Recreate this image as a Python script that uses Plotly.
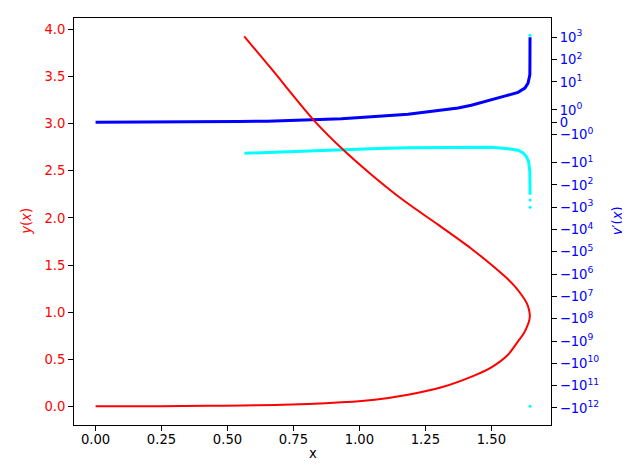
import numpy as np
import plotly.graph_objects as go

# ---- red curve y(x): from origin along lower branch, round the turning point, up the upper branch
curve_x = [0.0, 0.25, 0.427, 0.555, 0.680, 0.806, 0.932, 1.058, 1.184, 1.311, 1.437, 1.500,
           1.563, 1.601, 1.622, 1.636, 1.6435, 1.6458, 1.643, 1.635, 1.620, 1.589, 1.5506,
           1.4243, 1.2981, 1.1719, 1.0456, 0.9446, 0.8309, 0.6668, 0.5633]
curve_y = [0.0, 0.001, 0.005, 0.009, 0.014, 0.024, 0.042, 0.070, 0.123, 0.202, 0.329, 0.414,
           0.548, 0.690, 0.770, 0.850, 0.910, 0.960, 1.020, 1.090, 1.160, 1.274, 1.380,
           1.673, 1.928, 2.176, 2.459, 2.707, 3.025, 3.581, 3.927]

# ---- y'(x) on the lower branch (blue)
lower_x = [0.0, 0.25, 0.49, 0.541, 0.65, 0.793, 0.932, 1.045, 1.184, 1.298, 1.374, 1.424,
           1.500, 1.550, 1.601, 1.627, 1.639, 1.6458, 1.6462, 1.6464, 1.6465]
lower_v = [0.0, 0.0, 0.03, 0.06, 0.09, 0.17, 0.29, 0.45, 0.65, 0.95, 1.15, 1.37,
           1.78, 2.3, 3.4, 5.3, 8.9, 21.0, 80.0, 300.0, 1000.0]

# ---- y'(x) on the upper branch (cyan)
upper_x = [0.564, 0.655, 0.768, 0.881, 0.976, 1.071, 1.184, 1.336, 1.499, 1.563, 1.601,
           1.620, 1.632, 1.641, 1.6455, 1.6463, 1.6466]
upper_v = [-3.80, -3.43, -3.09, -2.79, -2.52, -2.32, -2.16, -2.05, -2.05, -2.37, -2.79,
           -3.69, -5.18, -8.7, -23.7, -81.7, -274.0]
upper_dot_x = [1.6466, 1.6466, 1.6465, 1.6466]
upper_dot_v = [-473.0, -1000.0, 1230.0, -8.4e11]

# ---- tick labels
x_ticks = [0.0, 0.25, 0.5, 0.75, 1.0, 1.25, 1.5]
left_ticks = [0.0, 0.5, 1.0, 1.5, 2.0, 2.5, 3.0, 3.5, 4.0]
right_tick_values = [1e3, 1e2, 1e1, 1e0, 0, -1e0, -1e1, -1e2, -1e3, -1e4, -1e5, -1e6,
                     -1e7, -1e8, -1e9, -1e10, -1e11, -1e12]
right_tick_labels = ["10<sup>3</sup>", "10<sup>2</sup>", "10<sup>1</sup>", "10<sup>0</sup>", "0",
                     "\u221210<sup>0</sup>", "\u221210<sup>1</sup>", "\u221210<sup>2</sup>",
                     "\u221210<sup>3</sup>", "\u221210<sup>4</sup>", "\u221210<sup>5</sup>",
                     "\u221210<sup>6</sup>", "\u221210<sup>7</sup>", "\u221210<sup>8</sup>",
                     "\u221210<sup>9</sup>", "\u221210<sup>10</sup>", "\u221210<sup>11</sup>",
                     "\u221210<sup>12</sup>"]


def symlog(v, linthresh=2.0, linscale=1.0, base=10.0):
    """matplotlib-style symmetric log scale transform"""
    a = np.asarray(v, dtype=float)
    adj = linscale / (1.0 - 1.0 / base)
    absa = np.abs(a)
    out = np.where(absa <= linthresh, a * adj,
                   np.sign(a) * linthresh * (adj + np.log(np.maximum(absa, 1e-300) / linthresh) / np.log(base)))
    return out


FONT = "DejaVu Sans"
FS = 13.2

fig = go.Figure()
fig.add_trace(go.Scatter(x=lower_x, y=symlog(lower_v), mode="lines",
                         line=dict(color="#0000ff", width=3), yaxis="y", showlegend=False))
fig.add_trace(go.Scatter(x=upper_x, y=symlog(upper_v), mode="lines",
                         line=dict(color="#00ffff", width=3), yaxis="y", showlegend=False))
fig.add_trace(go.Scatter(x=upper_dot_x, y=symlog(upper_dot_v), mode="markers",
                         marker=dict(color="#00ffff", size=3), yaxis="y", showlegend=False))
fig.add_trace(go.Scatter(x=curve_x, y=curve_y, mode="lines",
                         line=dict(color="#ff0000", width=2, shape="spline", smoothing=0.8),
                         yaxis="y2", showlegend=False))

axis_common = dict(showgrid=False, zeroline=False, showline=True, linecolor="black",
                   linewidth=1, ticks="outside", ticklen=5, tickwidth=1, tickcolor="black")

fig.update_layout(
    width=630, height=470, autosize=False,
    margin=dict(l=66, r=87, t=10, b=53, pad=0),
    plot_bgcolor="white", paper_bgcolor="white",
    font=dict(family=FONT, size=FS, color="black"),
    xaxis=dict(range=[-0.0818, 1.726], tickvals=x_ticks, tickformat=".2f", mirror=True,
               ticklabelstandoff=-3,
               tickfont=dict(family=FONT, size=FS, color="black"), **axis_common),
    yaxis=dict(side="right", range=[-27.15, 9.354], tickvals=list(symlog(right_tick_values)),
               ticktext=right_tick_labels, tickfont=dict(family=FONT, size=FS, color="#0000ff"),
               **axis_common),
    yaxis2=dict(side="left", overlaying="y", range=[-0.1985, 4.122], tickvals=left_ticks,
                tickformat=".1f", tickfont=dict(family=FONT, size=FS, color="#ff0000"),
                **axis_common),
    annotations=[
        dict(text="x", xref="paper", yref="paper", x=0.5, y=-0.07, showarrow=False,
             xanchor="center", yanchor="middle", font=dict(family=FONT, size=FS, color="black")),
        dict(text="<i>y</i>(<i>x</i>)", xref="paper", yref="paper", x=-0.0999, y=0.5,
             textangle=-90, showarrow=False, xanchor="center", yanchor="middle",
             font=dict(family=FONT, size=FS, color="#ff0000")),
        dict(text="<i>y</i>\u2032(<i>x</i>)", xref="paper", yref="paper", x=1.140, y=0.5,
             textangle=-90, showarrow=False, xanchor="center", yanchor="middle",
             font=dict(family=FONT, size=FS, color="#0000ff")),
    ],
)

fig.write_html("out.html")
